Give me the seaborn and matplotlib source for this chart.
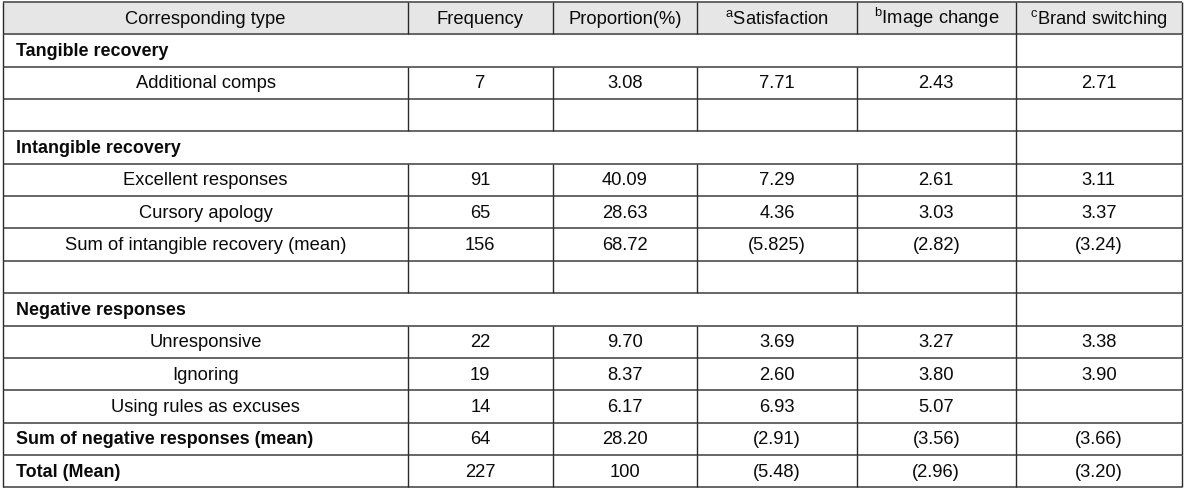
import matplotlib
matplotlib.use("Agg")
import matplotlib.pyplot as plt
import seaborn as sns
import pandas as pd

sns.set_theme(style="white")
plt.rcParams['font.family'] = ['Liberation Sans', 'DejaVu Sans']
plt.rcParams['mathtext.fontset'] = 'custom'
plt.rcParams['mathtext.rm'] = 'Liberation Sans'
plt.rcParams['mathtext.it'] = 'Liberation Sans'

# ---- data ----
headers = ["Corresponding type", "Frequency", "Proportion(%)",
           r"$^{\mathrm{a}}$Satisfaction", r"$^{\mathrm{b}}$Image change",
           r"$^{\mathrm{c}}$Brand switching"]
categories = ["Tangible recovery", "Additional comps", "",
              "Intangible recovery", "Excellent responses", "Cursory apology",
              "Sum of intangible recovery (mean)", "",
              "Negative responses", "Unresponsive", "Ignoring",
              "Using rules as excuses", "Sum of negative responses (mean)",
              "Total (Mean)"]
row_kinds = ["section", "item", "blank", "section", "item", "item", "item",
             "blank", "section", "item", "item", "item", "bold", "bold"]
frequency = ["", "7", "", "", "91", "65", "156", "", "", "22", "19", "14", "64", "227"]
proportion = ["", "3.08", "", "", "40.09", "28.63", "68.72", "", "", "9.70",
              "8.37", "6.17", "28.20", "100"]
satisfaction = ["", "7.71", "", "", "7.29", "4.36", "(5.825)", "", "", "3.69",
                "2.60", "6.93", "(2.91)", "(5.48)"]
image_change = ["", "2.43", "", "", "2.61", "3.03", "(2.82)", "", "", "3.27",
                "3.80", "5.07", "(3.56)", "(2.96)"]
brand_switching = ["", "2.71", "", "", "3.11", "3.37", "(3.24)", "", "", "3.38",
                   "3.90", "", "(3.66)", "(3.20)"]

df = pd.DataFrame({"type": categories, "kind": row_kinds, "freq": frequency,
                   "prop": proportion, "sat": satisfaction, "img": image_change,
                   "brand": brand_switching})
value_cols = ["freq", "prop", "sat", "img", "brand"]

# ---- layout ----
W, H = 1185, 488
col_edges = [3, 408, 552.5, 697, 857, 1015.5, 1182]
top, row_h = 2, 32.35
n_rows = len(df) + 1

fig = plt.figure(figsize=(W / 100, H / 100), dpi=100)
ax = fig.add_axes([0, 0, 1, 1])
ax.set_xlim(0, W)
ax.set_ylim(H, 0)
ax.axis("off")

def y_edge(i):
    return top + i * row_h

def y_base(i):
    # text baseline within row i
    return top + (i + 0.5) * row_h + 5.5

txt_color = "#0a0a0a"
fs = 13.2

# header background
ax.fill_between([col_edges[0], col_edges[-1]], y_edge(0), y_edge(1),
                color="#e6e6e6", zorder=0)

# horizontal lines
for i in range(n_rows + 1):
    ax.plot([col_edges[0], col_edges[-1]], [y_edge(i), y_edge(i)],
            color="#5a5a5a", lw=1.3, zorder=2, solid_capstyle="butt")

# vertical lines per row
for r in range(n_rows):
    kind = "header" if r == 0 else df["kind"].iloc[r - 1]
    if kind == "section":
        xs = [col_edges[0], col_edges[5], col_edges[6]]
    else:
        xs = col_edges
    for x in xs:
        ax.plot([x, x], [y_edge(r), y_edge(r + 1)], color="#2a2a2a", lw=1.0,
                zorder=3, solid_capstyle="butt")

# header text
for c, h in enumerate(headers):
    cx = (col_edges[c] + col_edges[c + 1]) / 2
    ax.text(cx, y_base(0), h, ha="center", va="baseline", fontsize=fs,
            color=txt_color)

# body text
for r, row in enumerate(df.itertuples(index=False), start=1):
    y = y_base(r)
    if row.kind in ("section", "bold"):
        ax.text(col_edges[0] + 13, y, row.type, ha="left", va="baseline",
                fontsize=12.9, fontweight="bold", color=txt_color)
    elif row.kind == "item":
        ax.text((col_edges[0] + col_edges[1]) / 2, y, row.type, ha="center",
                va="baseline", fontsize=fs, color=txt_color)
    for c, col in enumerate(value_cols, start=1):
        v = getattr(row, col)
        if v:
            cx = (col_edges[c] + col_edges[c + 1]) / 2
            ax.text(cx, y, v, ha="center", va="baseline", fontsize=fs,
                    color=txt_color)

fig.savefig("out.png", dpi=100, facecolor="white")
